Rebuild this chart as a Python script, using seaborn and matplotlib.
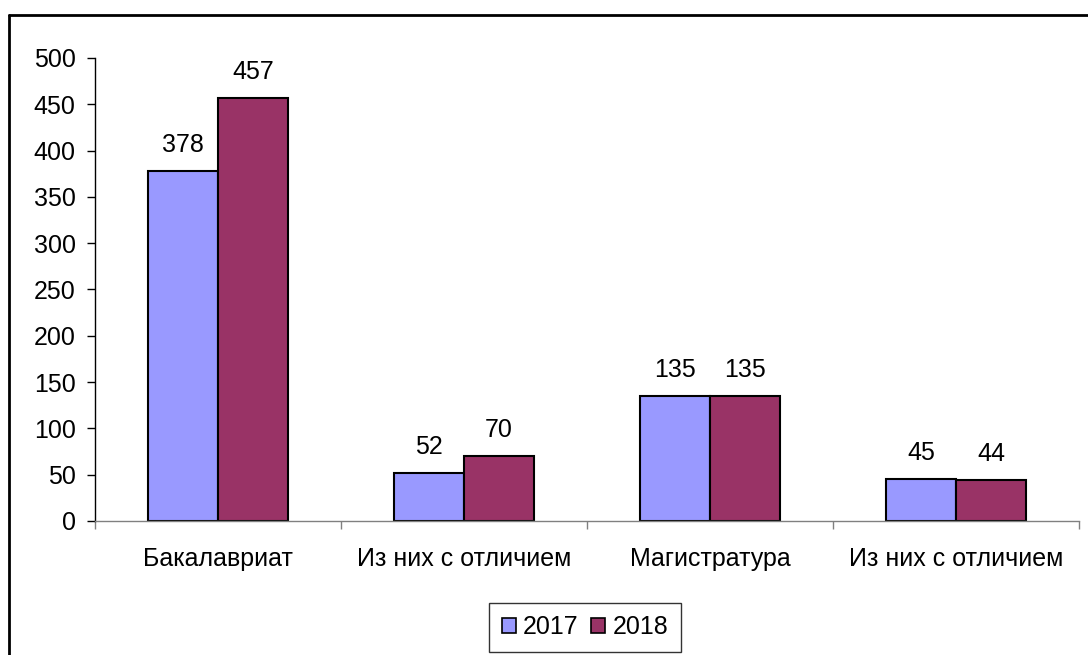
import matplotlib
matplotlib.use("Agg")
import matplotlib.pyplot as plt
import seaborn as sns
import pandas as pd
from matplotlib.lines import Line2D

categories = ["Бакалавриат", "Из них с отличием", "Магистратура", "Из них с отличием "]
years = ["2017", "2018"]
values_2017 = [378, 52, 135, 45]
values_2018 = [457, 70, 135, 44]
y_ticks = [0, 50, 100, 150, 200, 250, 300, 350, 400, 450, 500]
colors = ["#9999FF", "#993366"]

sns.set_style("white")
plt.rcParams['font.family'] = ['Liberation Sans', 'DejaVu Sans']
plt.rcParams['text.color'] = 'black'
plt.rcParams['xtick.labelcolor'] = 'black'
plt.rcParams['ytick.labelcolor'] = 'black'
FS = 18

df = pd.DataFrame({
    "cat": categories * 2,
    "year": [years[0]] * 4 + [years[1]] * 4,
    "value": values_2017 + values_2018,
})

fig = plt.figure(figsize=(10.88, 6.55), dpi=100)
ax = fig.add_axes([95/1088, 1-521/655, (1079-95)/1088, (521-58)/655])

sns.barplot(data=df, x="cat", y="value", hue="year", order=categories,
            hue_order=years, palette=colors, width=0.57, gap=0,
            edgecolor="black", linewidth=1.5, saturation=1, ax=ax, legend=False)

for c in ax.containers:
    ax.bar_label(c, labels=[f"{int(v)}" for v in c.datavalues], padding=10, fontsize=FS, color="black")

ax.set_ylim(0, 500)
ax.set_xlim(-0.5, 3.5)
ax.set_yticks(y_ticks)
ax.set_xlabel("")
ax.set_ylabel("")
ax.tick_params(axis="y", labelsize=FS, length=6, width=1, direction="out", left=True, color="black",
               labelcolor="black", pad=8)
ax.tick_params(axis="x", labelsize=FS, bottom=False, pad=15, labelcolor="black")
ax.set_xticks(range(4))
ax.set_xticklabels([c.strip() for c in categories])
ax.set_xticks([-0.5, 0.5, 1.5, 2.5, 3.5], minor=True)
ax.tick_params(axis="x", which="minor", bottom=True, length=6, width=1, color="#808080", direction="out")

for s in ["top", "right"]:
    ax.spines[s].set_visible(False)
ax.spines["left"].set_color("black")
ax.spines["left"].set_linewidth(1)
ax.spines["bottom"].set_color("#808080")
ax.spines["bottom"].set_linewidth(1)

handles = [plt.Rectangle((0, 0), 1, 1, facecolor=col, edgecolor="black", linewidth=1.2) for col in colors]
leg = fig.legend(handles, years, loc="lower center", bbox_to_anchor=(585/1088, 3/655), ncol=2,
                 frameon=True, fancybox=False, edgecolor="black", fontsize=FS, labelcolor="black",
                 handlelength=0.55, handleheight=0.55, handletextpad=0.3, columnspacing=0.5,
                 borderpad=0.5, borderaxespad=0)
leg.get_frame().set_linewidth(1)

# outer chart frame (left and top edges visible)
fig.add_artist(Line2D([9/1088, 9/1088], [0, 1-15/655], transform=fig.transFigure, color="black", linewidth=2))
fig.add_artist(Line2D([9/1088, 1], [1-15/655, 1-15/655], transform=fig.transFigure, color="black", linewidth=2))

fig.savefig("out.png", dpi=100)
